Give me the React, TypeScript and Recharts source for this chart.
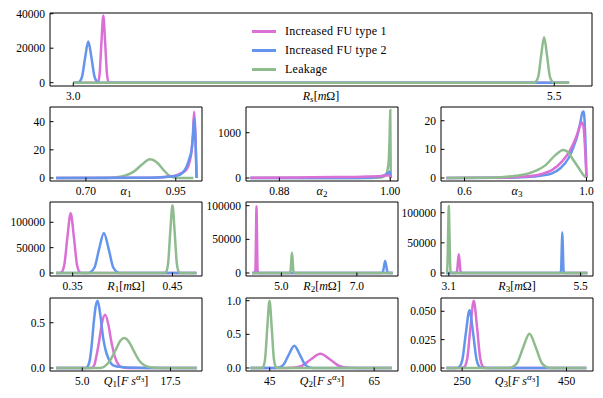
import React from 'react';
import { LineChart, Line, XAxis, YAxis, ReferenceArea } from 'recharts';

const FONT = "'Liberation Serif', 'DejaVu Serif', serif";
const PINK = '#da70d6';
const BLUE = '#6495ed';
const GREEN = '#8fbc8f';

const seriesNames = ['Increased FU type 1', 'Increased FU type 2', 'Leakage'];
const seriesColors = [PINK, BLUE, GREEN];

// R_s (top, wide)
const rsType1 = [[3.0, 0], [3.12, 0], [3.1285, 430], [3.137, 5300], [3.1465, 23700], [3.156, 39000], [3.1655, 23700], [3.175, 5300], [3.1835, 430], [3.195, 0], [5.577, 0]];
const rsType2 = [[3.0, 0], [3.015, 0], [3.028, 260], [3.045, 3200], [3.0615, 14500], [3.078, 23900], [3.0945, 14500], [3.111, 3200], [3.128, 260], [3.145, 0], [5.577, 0]];
const rsLeak = [[3.0, 0], [5.395, 0], [5.402, 290], [5.417, 3560], [5.432, 16000], [5.447, 26400], [5.462, 16000], [5.477, 3560], [5.492, 290], [5.5, 0], [5.577, 0]];
const rsXTicks = [3.0, 5.5];
const rsYTicks = [0, 20000, 40000];

// alpha_1
const a1Type1 = [[0.617, 0], [0.85, 0.1], [0.9, 0.4], [0.93, 1], [0.95, 1.8], [0.965, 3.4], [0.98, 6], [0.988, 11], [0.994, 19], [0.998, 32], [1.001, 47], [1.008, 0]];
const a1Type2 = [[0.617, 0], [0.85, 0.1], [0.9, 0.4], [0.93, 0.9], [0.952, 1.5], [0.968, 3.5], [0.98, 8], [0.988, 14], [0.994, 20], [0.998, 30], [1.001, 42], [1.008, 0]];
const a1Leak = [[0.617, 0], [0.76, 0.05], [0.786, 0.5], [0.81, 1.8], [0.833, 4.5], [0.856, 9.5], [0.878, 13.3], [0.9, 10.5], [0.915, 6], [0.93, 2], [0.945, 0.4], [0.96, 0.05], [0.999, 0]];
const a1XTicks = [0.7, 0.95];
const a1YTicks = [0, 20, 40];

// alpha_2
const a2Type1 = [[0.8486, 6], [0.9, 12], [0.94, 20], [0.97, 30], [0.99, 45], [0.998, 60], [1.0006, 0]];
const a2Type2 = [[0.8486, 0], [0.95, 2], [0.975, 8], [0.99, 35], [0.996, 85], [0.9995, 140], [1.0006, 0]];
const a2Leak = [[0.8486, 0], [0.98, 2], [0.99, 12], [0.995, 60], [0.998, 300], [0.9993, 900], [1.0, 1500], [1.0006, 0]];
const a2XTicks = [0.88, 1.0];
const a2YTicks = [0, 1000];

// alpha_3
const a3Type1 = [[0.541, 0], [0.7, 0.08], [0.8, 0.5], [0.85, 1.3], [0.89, 3], [0.92, 5.8], [0.945, 9.5], [0.965, 14], [0.978, 18], [0.985, 19.4], [0.99, 18], [0.995, 11], [1.0, 0]];
const a3Type2 = [[0.541, 0], [0.7, 0.05], [0.8, 0.35], [0.85, 0.8], [0.887, 1.6], [0.915, 3.5], [0.941, 6.9], [0.958, 11], [0.969, 14.4], [0.98, 19.5], [0.987, 23], [0.991, 23.2], [0.995, 17], [0.998, 8], [1.0, 0]];
const a3Leak = [[0.541, 0], [0.65, 0.05], [0.72, 0.3], [0.77, 0.8], [0.811, 1.6], [0.84, 2.8], [0.866, 4.5], [0.898, 8], [0.924, 9.8], [0.94, 9.0], [0.953, 6.9], [0.975, 3.4], [0.99, 1.0], [0.998, 0.2]];
const a3XTicks = [0.6, 1.0];
const a3YTicks = [0, 10, 20];

// R_1
const r1Type1 = [[0.3333, 0], [0.337, 0], [0.3384, 600], [0.3416, 16000], [0.3448, 71600], [0.348, 118000], [0.3512, 71600], [0.3544, 16000], [0.3576, 600], [0.359, 0], [0.474, 0]];
const r1Type2 = [[0.3333, 0], [0.366, 0], [0.3672, 870], [0.3719, 10700], [0.3766, 48000], [0.3813, 79000], [0.386, 48000], [0.3907, 10700], [0.3954, 870], [0.397, 0], [0.474, 0]];
const r1Leak = [[0.3333, 0], [0.442, 0], [0.4434, 1470], [0.4456, 18000], [0.4478, 81000], [0.45, 133500], [0.4522, 81000], [0.4544, 18000], [0.4566, 1470], [0.458, 0], [0.474, 0]];
const r1XTicks = [0.35, 0.45];
const rYTicks = [0, 50000, 100000];

// R_2
const r2Type1 = [[4.225, 0], [4.29, 0], [4.304, 1100], [4.316, 13000], [4.328, 60000], [4.34, 99000], [4.352, 60000], [4.364, 13000], [4.376, 1100], [4.39, 0], [7.95, 0]];
const r2Type2 = [[4.225, 0], [7.63, 0], [7.666, 200], [7.694, 2400], [7.722, 10900], [7.75, 17900], [7.778, 10900], [7.806, 2400], [7.834, 200], [7.87, 0], [7.95, 0]];
const r2Leak = [[4.225, 0], [5.2, 0], [5.226, 330], [5.244, 4100], [5.262, 18300], [5.28, 30200], [5.298, 18300], [5.316, 4100], [5.334, 330], [5.36, 0], [7.95, 0]];
const r2XTicks = [5.0, 7.0];

// R_3
const r3Type1 = [[3.053, 0], [3.225, 0], [3.237, 300], [3.252, 4200], [3.267, 18800], [3.282, 31000], [3.297, 18800], [3.312, 4200], [3.327, 300], [3.34, 0], [5.623, 0]];
const r3Type2 = [[3.053, 0], [5.125, 0], [5.137, 700], [5.147, 9100], [5.157, 40900], [5.167, 67400], [5.177, 40900], [5.187, 9100], [5.197, 700], [5.21, 0], [5.623, 0]];
const r3Leak = [[3.053, 0], [3.064, 1000], [3.076, 15000], [3.088, 67600], [3.1, 111400], [3.112, 67600], [3.124, 15000], [3.136, 1000], [3.15, 0], [5.623, 0]];
const r3XTicks = [3.1, 5.5];

// Q_1
const q1Type1 = [[1.28, 0], [6.3, 0], [6.7, 0.03], [7.0, 0.13], [7.4, 0.3], [7.8, 0.5], [8.25, 0.588], [8.7, 0.48], [9.1, 0.3], [9.6, 0.13], [10.1, 0.04], [10.6, 0.01], [11.5, 0], [21.21, 0]];
const q1Type2 = [[1.28, 0], [5.5, 0], [5.8, 0.02], [6.1, 0.1], [6.35, 0.26], [6.6, 0.48], [6.9, 0.68], [7.18, 0.743], [7.5, 0.62], [7.97, 0.33], [8.3, 0.2], [8.68, 0.11], [9.38, 0.03], [10.5, 0.01], [13, 0.002], [15, 0], [21.21, 0]];
const q1Leak = [[1.28, 0], [7.5, 0], [8.2, 0.02], [9.0, 0.09], [9.8, 0.21], [10.4, 0.3], [10.96, 0.331], [11.6, 0.29], [12.3, 0.19], [13.0, 0.09], [13.8, 0.03], [14.8, 0.005], [16, 0], [21.21, 0]];
const q1XTicks = [5.0, 17.5];
const q1YTicks = [0, 0.5];

// Q_2
const q2Type1 = [[41.31, 0], [48, 0], [49.3, 0.002], [51.1, 0.029], [52.9, 0.129], [54.7, 0.212], [56.5, 0.129], [58.3, 0.029], [60.1, 0.002], [62, 0], [68.36, 0]];
const q2Type2 = [[41.31, 0], [45.5, 0], [46.55, 0.004], [47.6, 0.045], [48.65, 0.2], [49.7, 0.331], [50.75, 0.2], [51.8, 0.045], [52.85, 0.004], [54, 0], [68.36, 0]];
const q2Leak = [[41.31, 0], [43.3, 0], [43.69, 0.011], [44.11, 0.135], [44.53, 0.607], [44.95, 1.0], [45.37, 0.607], [45.79, 0.135], [46.21, 0.011], [46.6, 0], [68.36, 0]];
const q2XTicks = [45, 65];
const q2YTicks = [0, 0.5, 1.0];

// Q_3
const q3Type1 = [[219.9, 0], [247, 0], [253.3, 0.0007], [259.6, 0.008], [265.9, 0.036], [272.2, 0.0593], [278.5, 0.036], [284.8, 0.008], [291.1, 0.0007], [298, 0], [488, 0]];
const q3Type2 = [[219.9, 0], [237, 0], [243.3, 0.0006], [250.2, 0.0069], [257.1, 0.0309], [264, 0.0509], [270.9, 0.0309], [277.8, 0.0069], [284.7, 0.0006], [292, 0], [488, 0]];
const q3Leak = [[219.9, 0], [335, 0], [343, 0.0003], [355, 0.0041], [367, 0.0183], [379, 0.0302], [391, 0.0183], [403, 0.0041], [415, 0.0003], [425, 0], [488, 0]];
const q3XTicks = [250, 450];
const q3YTicks = [0, 0.025, 0.05];

const toData = (pts: number[][]) => pts.map(([x, y]) => ({ x, y }));

const rLabel = (s: string, italicSub: boolean) => (
  <>
    <tspan fontStyle="italic">R</tspan>
    <tspan fontSize={9} dy={2.5} fontStyle={italicSub ? 'italic' : 'normal'}>{s}</tspan>
    <tspan dy={-2.5}>[</tspan>
    <tspan fontStyle="italic">m</tspan>
    <tspan>Ω]</tspan>
  </>
);

const alphaLabel = (i: string) => (
  <>
    <tspan fontStyle="italic">α</tspan>
    <tspan fontSize={9} dy={2.5}>{i}</tspan>
  </>
);

const qLabel = (i: string) => (
  <>
    <tspan fontStyle="italic">Q</tspan>
    <tspan fontSize={9} dy={2.5}>{i}</tspan>
    <tspan dy={-2.5}>[</tspan>
    <tspan fontStyle="italic">F s</tspan>
    <tspan fontSize={9} dy={-4.5} fontStyle="italic">α</tspan>
    <tspan fontSize={7} dy={1.5}>3</tspan>
    <tspan dy={3}>]</tspan>
  </>
);

const YW = 50;
const PAD = 8;
const XH = 22;

function Panel({ p }: { p: any }) {
  const tickStyle = { fill: '#000', fontSize: 11.5, style: { fontFamily: FONT } };
  return (
    <div style={{ position: 'absolute', left: p.left - YW, top: p.top - PAD }}>
      <LineChart width={YW + p.w + PAD} height={PAD + p.h + XH} margin={{ top: PAD, right: PAD, left: 0, bottom: 0 }}>
        <XAxis
          type="number"
          dataKey="x"
          domain={p.xDomain}
          ticks={p.xTicks}
          interval={0}
          allowDataOverflow
          height={XH}
          axisLine={false}
          tickSize={-3.5}
          tickMargin={9}
          tickLine={{ stroke: '#000' }}
          tick={tickStyle}
          tickFormatter={(v: number) => v.toFixed(p.xDec)}
          label={() => (
            <text x={YW + p.w / 2} y={PAD + p.h + 13.7} textAnchor="middle" fontSize={12} style={{ fontFamily: FONT }} fill="#000">
              {p.label}
            </text>
          )}
        />
        <YAxis
          type="number"
          domain={p.yDomain}
          ticks={p.yTicks}
          interval={0}
          allowDataOverflow
          width={YW}
          axisLine={false}
          tickSize={-3.5}
          tickMargin={8.5}
          tickLine={{ stroke: '#000' }}
          tick={tickStyle}
          tickFormatter={(v: number) => v.toFixed(p.yDec)}
        />
        <ReferenceArea x1={p.xDomain[0]} x2={p.xDomain[1]} y1={p.yDomain[0]} y2={p.yDomain[1]} fill="none" stroke="#000" strokeWidth={1} />
        {p.curves.map((c: any, i: number) => (
          <Line
            key={i}
            data={toData(c.pts)}
            dataKey="y"
            type="monotone"
            stroke={c.color}
            strokeWidth={2.5}
            dot={false}
            activeDot={false}
            isAnimationActive={false}
          />
        ))}
      </LineChart>
    </div>
  );
}

const colL = 50, colM = 245.5, colR = 440.5, colW = 152;

const panels = [
  {
    left: 50, top: 13, w: 542, h: 73, xDomain: [2.879, 5.696], yDomain: [-1920, 40400],
    xTicks: rsXTicks, yTicks: rsYTicks, xDec: 1, yDec: 0, label: rLabel('s', true),
    curves: [{ pts: rsType1, color: PINK }, { pts: rsType2, color: BLUE }, { pts: rsLeak, color: GREEN }],
  },
  {
    left: colL, top: 107, w: colW, h: 74, xDomain: [0.6, 1.023], yDomain: [-2.13, 50.4],
    xTicks: a1XTicks, yTicks: a1YTicks, xDec: 2, yDec: 0, label: alphaLabel('1'),
    curves: [{ pts: a1Leak, color: GREEN }, { pts: a1Type1, color: PINK }, { pts: a1Type2, color: BLUE }],
  },
  {
    left: colM, top: 107, w: colW, h: 74, xDomain: [0.8438, 1.0084], yDomain: [-66, 1567],
    xTicks: a2XTicks, yTicks: a2YTicks, xDec: 2, yDec: 0, label: alphaLabel('2'),
    curves: [{ pts: a2Leak, color: GREEN }, { pts: a2Type2, color: BLUE }, { pts: a2Type1, color: PINK }],
  },
  {
    left: colR, top: 107, w: colW, h: 74, xDomain: [0.523, 1.0213], yDomain: [-1.05, 24.8],
    xTicks: a3XTicks, yTicks: a3YTicks, xDec: 1, yDec: 0, label: alphaLabel('3'),
    curves: [{ pts: a3Type2, color: BLUE }, { pts: a3Type1, color: PINK }, { pts: a3Leak, color: GREEN }],
  },
  {
    left: colL, top: 202, w: colW, h: 74, xDomain: [0.3273, 0.4796], yDomain: [-5920, 140000],
    xTicks: r1XTicks, yTicks: rYTicks, xDec: 2, yDec: 0, label: rLabel('1', false),
    curves: [{ pts: r1Type1, color: PINK }, { pts: r1Type2, color: BLUE }, { pts: r1Leak, color: GREEN }],
  },
  {
    left: colM, top: 202, w: colW, h: 74, xDomain: [4.062, 8.09], yDomain: [-4460, 105500],
    xTicks: r2XTicks, yTicks: rYTicks, xDec: 1, yDec: 0, label: rLabel('2', false),
    curves: [{ pts: r2Type1, color: PINK }, { pts: r2Type2, color: BLUE }, { pts: r2Leak, color: GREEN }],
  },
  {
    left: colR, top: 202, w: colW, h: 74, xDomain: [2.958, 5.726], yDomain: [-4975, 117700],
    xTicks: r3XTicks, yTicks: rYTicks, xDec: 1, yDec: 0, label: rLabel('3', false),
    curves: [{ pts: r3Type1, color: PINK }, { pts: r3Type2, color: BLUE }, { pts: r3Leak, color: GREEN }],
  },
  {
    left: colL, top: 298, w: colW, h: 73, xDomain: [0.43, 21.97], yDomain: [-0.033, 0.773],
    xTicks: q1XTicks, yTicks: q1YTicks, xDec: 1, yDec: 1, label: qLabel('1'),
    curves: [{ pts: q1Type1, color: PINK }, { pts: q1Type2, color: BLUE }, { pts: q1Leak, color: GREEN }],
  },
  {
    left: colM, top: 298, w: colW, h: 73, xDomain: [40.45, 69.56], yDomain: [-0.045, 1.04],
    xTicks: q2XTicks, yTicks: q2YTicks, xDec: 0, yDec: 1, label: qLabel('2'),
    curves: [{ pts: q2Type1, color: PINK }, { pts: q2Type2, color: BLUE }, { pts: q2Leak, color: GREEN }],
  },
  {
    left: colR, top: 298, w: colW, h: 73, xDomain: [209.4, 500.8], yDomain: [-0.00265, 0.0617],
    xTicks: q3XTicks, yTicks: q3YTicks, xDec: 0, yDec: 3, label: qLabel('3'),
    curves: [{ pts: q3Type1, color: PINK }, { pts: q3Type2, color: BLUE }, { pts: q3Leak, color: GREEN }],
  },
];

export default function App() {
  return (
    <div style={{ position: 'absolute', left: 0, top: 0, width: 603, height: 398, background: '#fff', fontFamily: FONT }}>
      {panels.map((p, i) => (
        <Panel key={i} p={p} />
      ))}
      <div style={{ position: 'absolute', left: 252, top: 22 }}>
        {seriesNames.map((n, i) => (
          <div key={n} style={{ display: 'flex', alignItems: 'center', height: 19 }}>
            <div style={{ width: 24, height: 2.5, background: seriesColors[i], marginRight: 9 }} />
            <span style={{ fontSize: 12, letterSpacing: 0.25, color: '#000', lineHeight: '19px' }}>{n}</span>
          </div>
        ))}
      </div>
    </div>
  );
}
